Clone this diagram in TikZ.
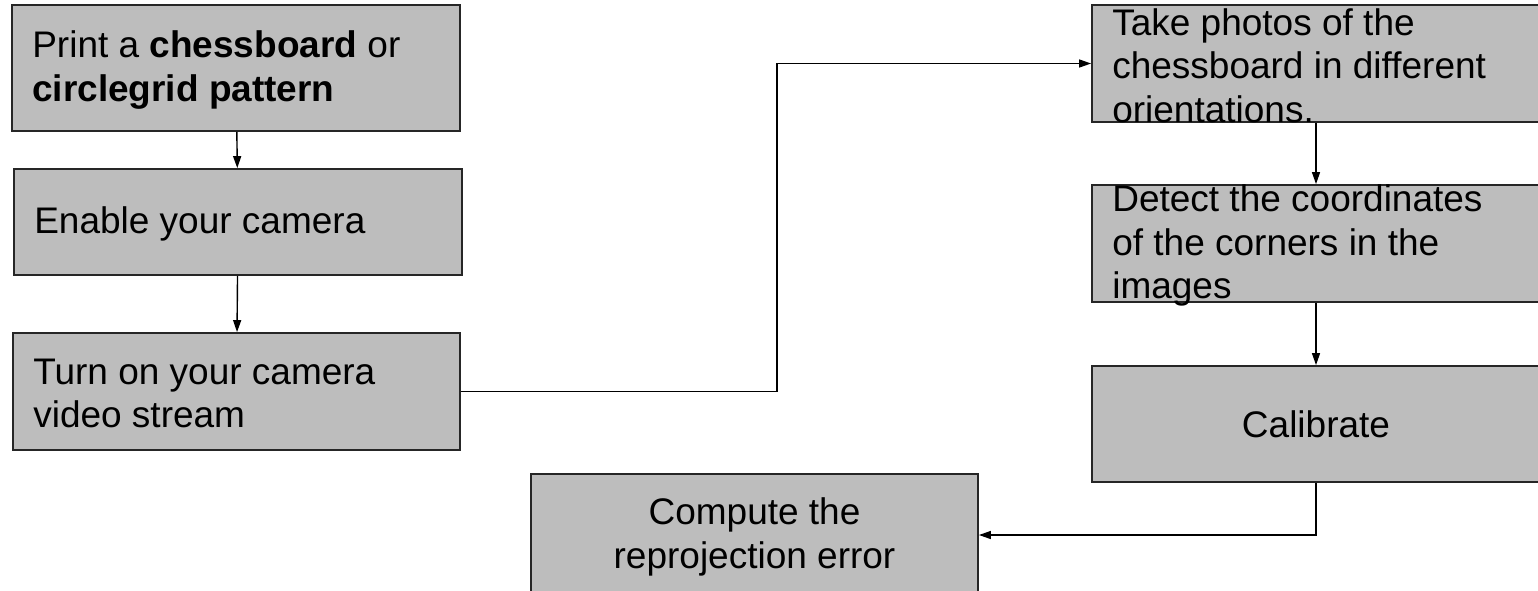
\documentclass[tikz,border=0pt]{standalone}
\usepackage{fontspec}
\setmainfont{Liberation Sans}
\usetikzlibrary{arrows.meta}
\definecolor{stepgray}{RGB}{189,189,189}

\begin{document}
\begin{tikzpicture}[x=1pt,y=-1pt,
  every node/.style={font=\fontsize{37}{43.5}\selectfont},
  box/.style={draw=black!85, line width=1.8pt, fill=stepgray, inner sep=0pt},
  boxtext/.style={align=left, anchor=west, inner sep=0pt, xshift=21pt, yshift=-2pt},
  midtext/.style={align=center, inner sep=0pt},
  flow/.style={-{Triangle[length=12pt,width=8pt]}, line width=1.4pt}]

% Fix the page to the size of the original picture
\useasboundingbox (0,0) rectangle (1538,590);

% Boxes of the left column
\node[box, minimum width=448pt, minimum height=126pt] (print) at (236,68) {};
\node[box, minimum width=448pt, minimum height=106pt] (enable) at (238,222) {};
\node[box, minimum width=447pt, minimum height=117pt] (turnOn) at (236.5,391.5) {};

% Boxes of the right column and the last step
\node[box, minimum width=448pt, minimum height=117pt] (takePhotos) at (1316,63.5) {};
\node[box, minimum width=448pt, minimum height=117pt] (detect) at (1316,243.5) {};
\node[box, minimum width=448pt, minimum height=116pt] (calibrate) at (1316,424) {};
\node[box, minimum width=447pt, minimum height=122pt] (compute) at (754.5,535) {};

% Texts of the steps
\node[boxtext] (printText) at (print.west) {Print a \textbf{chessboard} or\\\textbf{circlegrid pattern}};
\node[boxtext] (enableText) at (enable.west) {Enable your camera};
\node[boxtext] (turnOnText) at (turnOn.west) {Turn on your camera\\video stream};
\node[boxtext] (takePhotosText) at (takePhotos.west) {Take photos of the\\chessboard in different\\orientations.};
\node[boxtext] (detectText) at (detect.west) {Detect the coordinates\\of the corners in the\\images};
\node[midtext] (calibrateText) at (calibrate.center) {Calibrate};
\node[midtext, yshift=-2pt] (computeText) at (compute.center) {Compute the\\reprojection error};

% Draw the arrows between the steps
\draw [flow] (print) -- (enable);
\draw [flow] (enable) -- (turnOn);
\draw [flow] (turnOn.east) -- ++(316,0) |- (takePhotos.west);
\draw [flow] (takePhotos) -- (detect);
\draw [flow] (detect) -- (calibrate);
\draw [flow] (calibrate.south) |- (compute.east);

\end{tikzpicture}
\end{document}
